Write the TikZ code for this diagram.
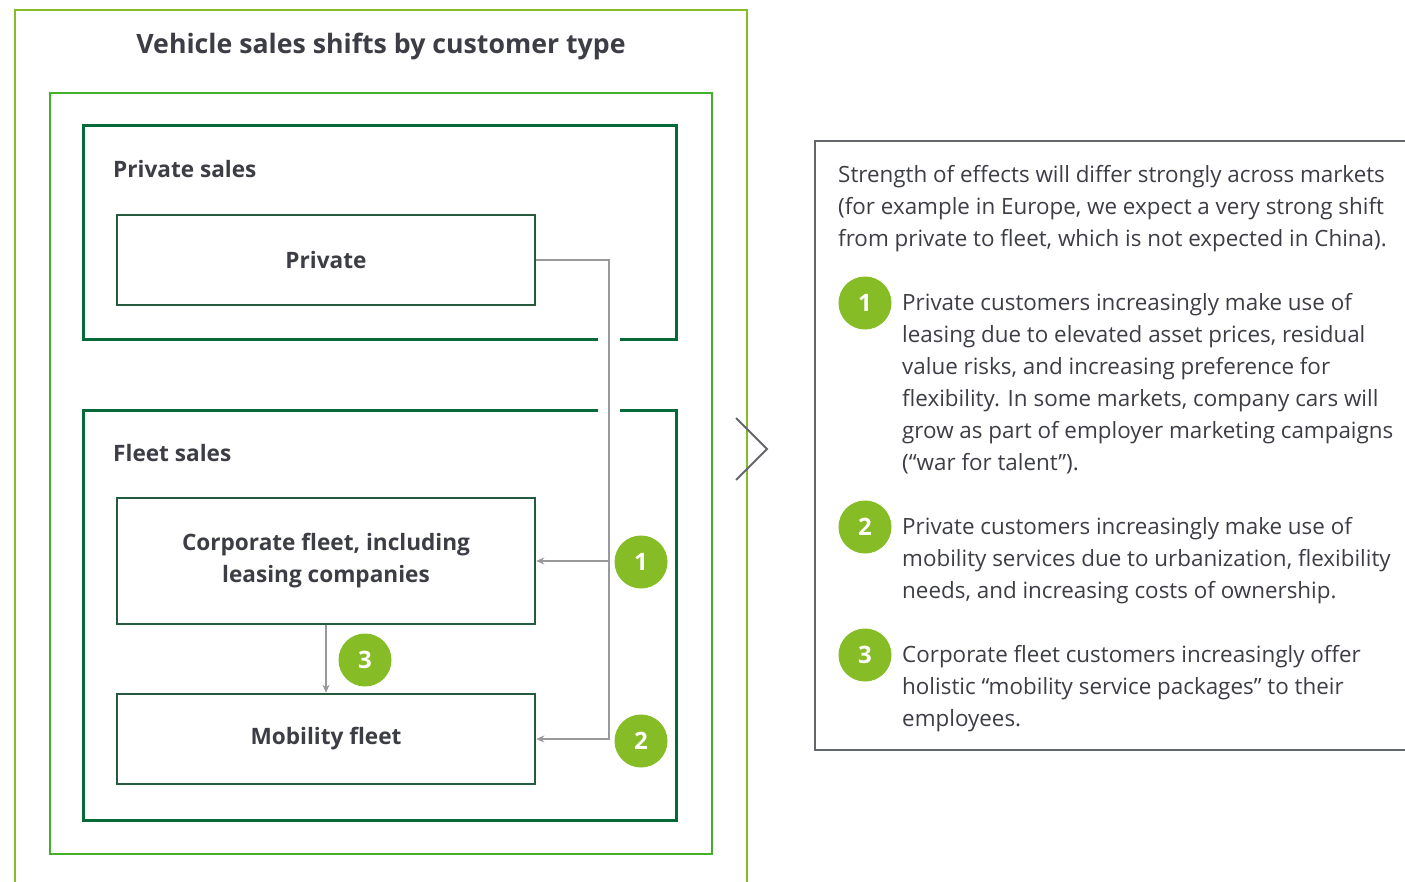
\documentclass[tikz,border=0pt]{standalone}
\usepackage{fontspec}
\setmainfont{Open Sans}
\usetikzlibrary{arrows.meta}
\definecolor{lgreen}{HTML}{86BC25}
\definecolor{mgreen}{HTML}{43B02A}
\definecolor{dgreen}{HTML}{046A38}
\definecolor{bgreen}{HTML}{265A3E}
\definecolor{lgray}{HTML}{97999B}
\definecolor{dgray}{HTML}{63666A}
\definecolor{txt}{HTML}{3C3D45}

\begin{document}
\begin{tikzpicture}[x=1pt, y=-1pt, text=txt,
    font=\fontsize{22.4}{32}\selectfont,
    box/.style={draw=bgreen, line width=2.5pt, minimum width=418pt,
                align=center, font=\fontsize{22.6}{32}\selectfont\bfseries},
    num/.style={circle, fill=lgreen, minimum size=53pt, inner sep=0pt,
                text=white, font=\fontsize{24}{24}\selectfont\bfseries},
    link/.style={draw=lgray, line width=1.5pt, -{Stealth[length=8pt,width=7pt]}},
    para/.style={anchor=north west, inner sep=0pt, align=left}]
  \useasboundingbox (0,0) rectangle (1405,882);

  % frames
  \draw[lgreen, line width=2pt] (15,890) -- (15,10) -- (747,10) -- (747,890);
  \node (T) at (381,46) [font=\fontsize{26.7}{30}\selectfont\bfseries] {Vehicle sales shifts by customer type};
  \draw[mgreen, line width=2.5pt] (50,93) rectangle (712,854);
  \draw[dgreen, line width=3pt] (598,340) -- (83,340) -- (83,126) -- (676,126) -- (676,340) -- (620,340);
  \draw[dgreen, line width=3pt] (598,410) -- (83,410) -- (83,820) -- (676,820) -- (676,410) -- (620,410);
  \node (PS) at (113,169) [anchor=west, inner sep=0pt, font=\fontsize{22.6}{32}\selectfont\bfseries] {Private sales};
  \node (FS) at (113,453) [anchor=west, inner sep=0pt, font=\fontsize{22.6}{32}\selectfont\bfseries] {Fleet sales};

  % boxes
  \node (P)  at (326,260) [box, minimum height=90pt] {Private};
  \node (CF) at (326,561) [box, minimum height=126pt] {Corporate fleet, including\\leasing companies};
  \node (MF) at (326,739) [box, minimum height=90pt] {Mobility fleet};

  % shifts
  \coordinate (bus) at (609,0);
  \draw[link] (P.east) -- (P.east -| bus) -- (MF.east -| bus) -- (MF.east);
  \draw[link] (CF.east -| bus) -- (CF.east);
  \draw[link] (CF.south) -- (MF.north);
  \node (n1) at (641,562) [num] {1};
  \node (n2) at (641,741) [num] {2};
  \node (n3) at (365,660) [num] {3};

  % chevron
  \draw[dgray, line width=2pt] (736,418) -- (767,449) -- (736,480);

  % notes
  \draw[dgray, line width=2pt] (1420,141) -- (815,141) -- (815,750) -- (1420,750);
  \node (I) at (838,165) [para] {Strength of effects will differ strongly across markets\\
    (for example in Europe, we expect a very strong shift\\
    from private to fleet, which is not expected in China).};
  \node (r1) at (865,303) [num] {1};
  \node (t1) at (902,293) [para] {Private customers increasingly make use of\\
    leasing due to elevated asset prices, residual\\
    value risks, and increasing preference for\\
    flexibility. In some markets, company cars will\\
    grow as part of employer marketing campaigns\\
    (“war for talent”).};
  \node (r2) at (865,527) [num] {2};
  \node (t2) at (902,517) [para] {Private customers increasingly make use of\\
    mobility services due to urbanization, flexibility\\
    needs, and increasing costs of ownership.};
  \node (r3) at (865,655) [num] {3};
  \node (t3) at (902,645) [para] {Corporate fleet customers increasingly offer\\
    holistic “mobility service packages” to their\\
    employees.};
\end{tikzpicture}
\end{document}
